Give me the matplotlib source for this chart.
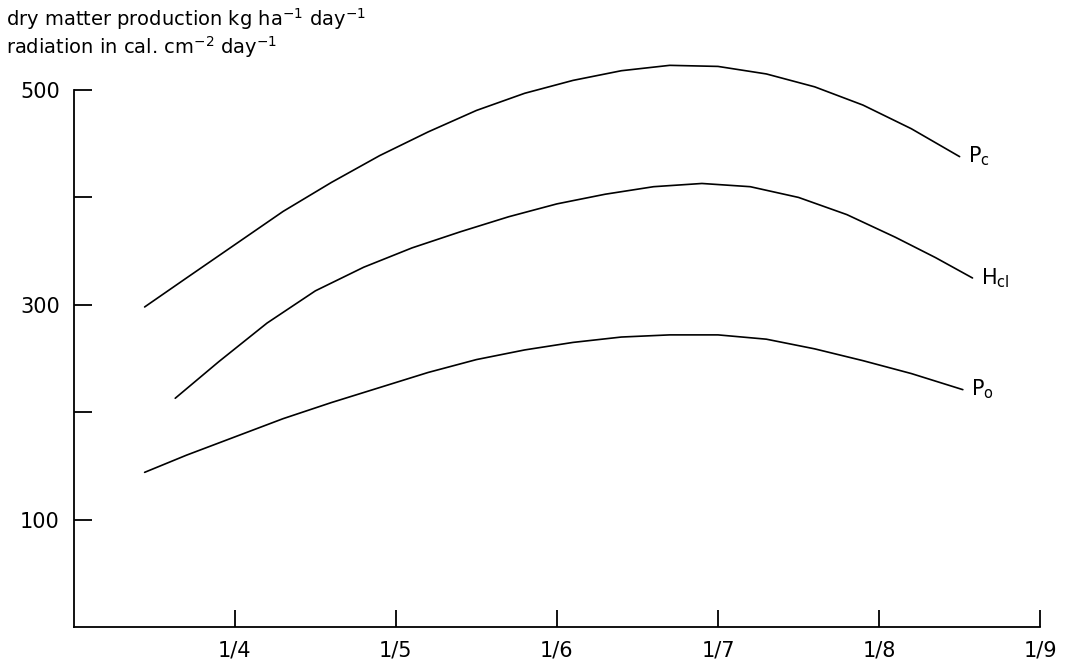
import numpy as np
import matplotlib.pyplot as plt

plt.rcParams['font.family'] = ['DejaVu Sans']
plt.rcParams['mathtext.default'] = 'regular'

# month (1 = Jan) on x, kg ha-1 day-1 / cal cm-2 day-1 on y
pc_month = [3.44, 3.7, 4.0, 4.3, 4.6, 4.9, 5.2, 5.5, 5.8, 6.1, 6.4, 6.7, 7.0, 7.3, 7.6, 7.9, 8.2, 8.5]
pc_value = [298, 325, 356, 387, 414, 439, 461, 481, 497, 509, 518, 523, 522, 515, 503, 486, 464, 438]

hcl_month = [3.63, 3.9, 4.2, 4.5, 4.8, 5.1, 5.4, 5.7, 6.0, 6.3, 6.6, 6.9, 7.2, 7.5, 7.8, 8.1, 8.35, 8.58]
hcl_value = [213, 247, 283, 313, 335, 353, 368, 382, 394, 403, 410, 413, 410, 400, 384, 363, 344, 325]

po_month = [3.44, 3.7, 4.0, 4.3, 4.6, 4.9, 5.2, 5.5, 5.8, 6.1, 6.4, 6.7, 7.0, 7.3, 7.6, 7.9, 8.2, 8.52]
po_value = [144, 160, 177, 194, 209, 223, 237, 249, 258, 265, 270, 272, 272, 268, 259, 248, 236, 221]

curve_labels = [r'$P_c$', r'$H_{cl}$', r'$P_o$']

month_ticks = [4, 5, 6, 7, 8, 9]
month_labels = ['1/4', '1/5', '1/6', '1/7', '1/8', '1/9']
value_ticks = [100, 200, 300, 400, 500]
value_labels = ['100', '', '300', '', '500']

fig = plt.figure(figsize=(10.69, 6.67), dpi=100)
ax = fig.add_axes([0.069, 0.060, 0.904, 0.805])

series = [(pc_month, pc_value), (hcl_month, hcl_value), (po_month, po_value)]
for (mx, vy), lab in zip(series, curve_labels):
    ax.plot(mx, vy, color='black', lw=1.2, clip_on=False,
            solid_capstyle='round', solid_joinstyle='round')
    ax.annotate(lab, (mx[-1], vy[-1]), xytext=(6, 0), textcoords='offset points',
                ha='left', va='center', fontsize=15, annotation_clip=False)

ax.set_xlim(3, 9)
ax.set_ylim(0, 500)
ax.set_xticks(month_ticks)
ax.set_xticklabels(month_labels)
ax.set_yticks(value_ticks)
ax.set_yticklabels(value_labels)

for side in ['top', 'right']:
    ax.spines[side].set_visible(False)
for side in ['left', 'bottom']:
    ax.spines[side].set_linewidth(1.3)

ax.tick_params(axis='both', direction='in', width=1.3, labelsize=15)
ax.tick_params(axis='y', length=13, pad=10)
ax.tick_params(axis='x', length=12, pad=10)

fig.text(0.006, 0.972, r'dry matter production kg ha$^{-1}$ day$^{-1}$',
         fontsize=14, va='center', ha='left')
fig.text(0.006, 0.930, r'radiation in cal. cm$^{-2}$ day$^{-1}$',
         fontsize=14, va='center', ha='left')

fig.savefig('out.png', dpi=100, facecolor='white')
